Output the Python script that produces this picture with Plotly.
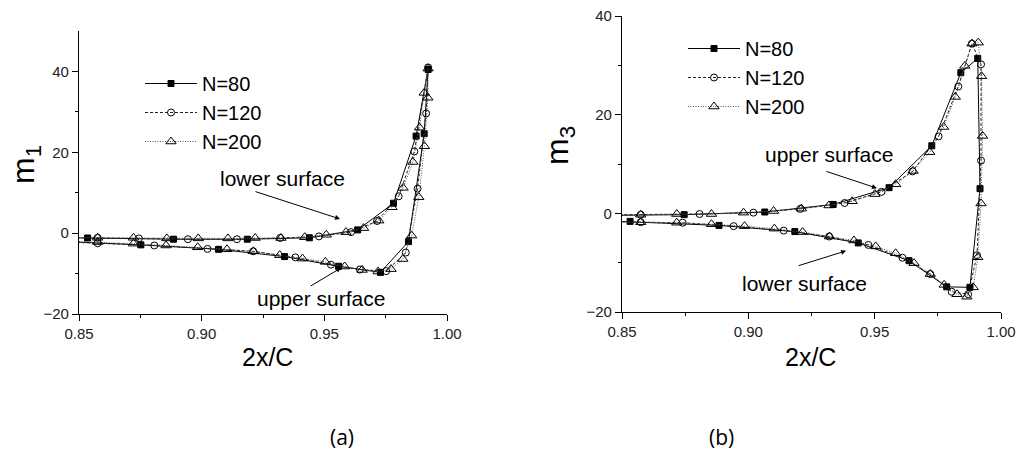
import plotly.graph_objects as go

W, H = 1021, 460

# ---------------- data: panel (a), m1 ----------------
a80_x = [0.840, 0.8535, 0.8885, 0.9186, 0.9439, 0.9636, 0.9782, 0.9874, 0.9923,
         0.9907, 0.9843, 0.9729, 0.9558, 0.9338, 0.9069, 0.8752, 0.845]
a80_y = [-1.1, -1.2, -1.5, -1.5, -1.15, 0.8, 7.4, 24.0, 40.5,
         24.6, -2.1, -9.7, -8.2, -5.8, -4.0, -2.9, -2.1]

a120_x = [0.845, 0.8576, 0.8744, 0.8944, 0.9144, 0.9320, 0.9478, 0.9609, 0.9715, 0.9803, 0.9867, 0.9923,
          0.9915, 0.9880, 0.9832, 0.9752, 0.9645, 0.9527, 0.9382, 0.9210, 0.9024, 0.8807, 0.8576, 0.845]
a120_y = [-1.1, -1.15, -1.3, -1.5, -1.5, -1.2, -0.8, 0.25, 3.0, 9.1, 20.2, 41.0,
          29.6, 11.0, -4.8, -9.4, -9.0, -7.8, -6.0, -4.5, -3.9, -3.05, -2.5, -2.2]

a200_x = [0.845, 0.8576, 0.8722, 0.8858, 0.8986, 0.9107, 0.9218, 0.9323, 0.9420, 0.9508, 0.9588, 0.9660,
          0.9722, 0.9776, 0.9821, 0.9861, 0.9888, 0.9907, 0.9923, 0.9922, 0.9908, 0.9885, 0.9856, 0.9820,
          0.9772, 0.9719, 0.9654, 0.9583, 0.9504, 0.9411, 0.9318, 0.9211, 0.9103, 0.8984, 0.8855, 0.8722,
          0.8576, 0.845]
a200_y = [-1.1, -1.15, -1.15, -1.3, -1.3, -1.3, -1.2, -1.2, -1.0, -0.4, 0.25, 1.25,
          3.1, 6.4, 11.2, 17.6, 26.1, 34.7, 40.7, 33.5, 21.5, 8.9, -0.6, -6.4,
          -8.9, -9.5, -9.1, -8.25, -7.1, -6.3, -5.45, -4.5, -4.0, -3.5, -3.05, -2.6,
          -2.2, -2.0]

# ---------------- data: panel (b), m3 ----------------
b80_x = [0.838, 0.8746, 0.9065, 0.9336, 0.9557, 0.9726, 0.9841, 0.9908, 0.9917,
         0.9877, 0.9785, 0.9636, 0.9435, 0.9184, 0.8884, 0.8532, 0.840]
b80_y = [-0.45, -0.27, 0.27, 1.8, 5.2, 13.7, 28.5, 31.4, 5.0,
         -15.0, -14.9, -9.6, -6.0, -3.7, -2.45, -1.63, -1.45]

b120_x = [0.845, 0.8574, 0.8807, 0.9020, 0.9205, 0.9381, 0.9527, 0.9650, 0.9753, 0.9831, 0.9885, 0.9921,
          0.9921, 0.9905, 0.9870, 0.9805, 0.9720, 0.9610, 0.9475, 0.9320, 0.9140, 0.8942, 0.8740, 0.8574,
          0.845]
b120_y = [-0.3, -0.27, -0.14, 0.14, 0.9, 2.1, 4.35, 8.5, 15.6, 25.7, 34.4, 30.2,
          10.7, -8.5, -16.4, -15.9, -12.3, -9.0, -6.4, -4.7, -3.5, -2.6, -1.9, -1.8,
          -1.7]

b200_x = [0.845, 0.8574, 0.8717, 0.8854, 0.8981, 0.9100, 0.9210, 0.9319, 0.9411, 0.9501, 0.9583, 0.9652,
          0.9718, 0.9773, 0.9819, 0.9857, 0.9885, 0.9910, 0.9923, 0.9927, 0.9921, 0.9908, 0.9890, 0.9865,
          0.9826, 0.9775, 0.9720, 0.9656, 0.9583, 0.9504, 0.9418, 0.9321, 0.9215, 0.9103, 0.8985, 0.8854,
          0.8717, 0.8574, 0.845]
b200_y = [-0.3, -0.27, -0.14, -0.14, 0.14, 0.47, 0.95, 1.6, 2.45, 3.9, 5.9, 8.6,
          12.4, 17.5, 23.6, 29.9, 34.4, 34.6, 27.8, 15.7, 2.0, -8.9, -15.0, -16.9,
          -16.4, -14.5, -12.3, -10.1, -8.1, -6.7, -5.5, -4.7, -3.8, -3.1, -2.6, -2.2,
          -1.9, -1.8, -1.7]

series_names = ["N=80", "N=120", "N=200"]
x_ticks = [0.85, 0.90, 0.95, 1.00]
x_ticklabels = ["0.85", "0.90", "0.95", "1.00"]

FONT = "Liberation Sans"

styles = [
    dict(line=dict(color="black", width=1, dash="solid"),
         marker=dict(symbol="square", size=6, color="black", line=dict(color="black", width=1))),
    dict(line=dict(color="#222", width=1, dash="3px,2px"),
         marker=dict(symbol="circle-open", size=7, color="black", line=dict(color="black", width=1))),
    dict(line=dict(color="#555", width=1, dash="1px,1.5px"),
         marker=dict(symbol="triangle-up-open", size=9, color="black", line=dict(color="black", width=1))),
]

fig = go.Figure()

panel_a = [(a80_x, a80_y), (a120_x, a120_y), (a200_x, a200_y)]
panel_b = [(b80_x, b80_y), (b120_x, b120_y), (b200_x, b200_y)]

for i, (xs, ys) in enumerate(panel_a):
    fig.add_trace(go.Scatter(x=xs, y=ys, mode="lines+markers", name=series_names[i],
                             xaxis="x", yaxis="y", legend="legend", cliponaxis=True, **styles[i]))
for i, (xs, ys) in enumerate(panel_b):
    fig.add_trace(go.Scatter(x=xs, y=ys, mode="lines+markers", name=series_names[i],
                             xaxis="x2", yaxis="y2", legend="legend2", cliponaxis=True, **styles[i]))


def px_x(p):
    return p / W


def px_y(p):
    return 1 - p / H


axis_common = dict(showline=True, linecolor="black", linewidth=1.2, ticks="outside",
                   ticklen=6, tickwidth=1, tickcolor="black", showgrid=False, zeroline=False,
                   automargin=False,
                   tickfont=dict(family=FONT, size=15, color="#222"))

minor_x = dict(ticks="outside", ticklen=3, tickcolor="black", tickvals=[0.875, 0.925, 0.975])
minor_y = dict(ticks="outside", ticklen=3, tickcolor="black", tickvals=[-10, 10, 30])

fig.update_layout(
    width=W, height=H,
    margin=dict(l=0, r=0, t=0, b=0, autoexpand=False),
    paper_bgcolor="white", plot_bgcolor="white",
    font=dict(family=FONT, color="black"),
    xaxis=dict(domain=[px_x(79), px_x(447)], range=[0.85, 1.00], anchor="y",
               tickvals=x_ticks, ticktext=x_ticklabels, minor=minor_x, **axis_common),
    yaxis=dict(domain=[px_y(314), px_y(31)], range=[-20, 50], anchor="x",
               tickvals=[-20, 0, 20, 40], minor=minor_y, **axis_common),
    xaxis2=dict(domain=[px_x(622), px_x(1001)], range=[0.85, 1.00], anchor="y2",
                tickvals=x_ticks, ticktext=x_ticklabels, minor=minor_x, **axis_common),
    yaxis2=dict(domain=[px_y(312), px_y(16)], range=[-20, 40], anchor="x2",
                tickvals=[-20, 0, 20, 40], minor=minor_y, **axis_common),
    legend=dict(x=px_x(140), y=px_y(64), xanchor="left", yanchor="top",
                bgcolor="rgba(0,0,0,0)", font=dict(family=FONT, size=20, color="black"),
                itemwidth=52, tracegroupgap=0),
    legend2=dict(x=px_x(683), y=px_y(29), xanchor="left", yanchor="top",
                 bgcolor="rgba(0,0,0,0)", font=dict(family=FONT, size=20, color="black"),
                 itemwidth=52, tracegroupgap=0),
    showlegend=True,
)

ann = []
txt_font = dict(family=FONT, size=21, color="black")


def label(text, xp, yp, font, angle=0):
    return dict(text=text, x=px_x(xp), y=px_y(yp), xref="paper", yref="paper",
                xanchor="center", yanchor="middle", showarrow=False, textangle=angle, font=font)


# axis titles
ann.append(label("m<sub>1</sub>", 25, 165, dict(family=FONT, size=32, color="black"), -90))
ann.append(label("m<sub>3</sub>", 560, 146, dict(family=FONT, size=32, color="black"), -90))
ann.append(label("2x/C", 267, 357, dict(family=FONT, size=25, color="black")))
ann.append(label("2x/C", 810, 357, dict(family=FONT, size=25, color="black")))
# panel captions
ann.append(label("(a)", 342, 437, dict(family="Open Sans, sans-serif", size=21, color="black")))
ann.append(label("(b)", 721, 437, dict(family="Open Sans, sans-serif", size=21, color="black")))
# surface labels
ann.append(label("lower surface", 282, 178, txt_font))
ann.append(label("upper surface", 321, 298, txt_font))
ann.append(label("upper surface", 829, 155, txt_font))
ann.append(label("lower surface", 804, 283, txt_font))
# arrows (data coordinates)
arrow_style = dict(showarrow=True, arrowhead=2, arrowsize=1, arrowwidth=1, arrowcolor="black", text="")
ann.append(dict(x=0.9564, y=3.5, ax=0.9213, ay=10.4, xref="x", yref="y", axref="x", ayref="y", **arrow_style))
ann.append(dict(x=0.9568, y=-8.6, ax=0.9438, ay=-13.3, xref="x", yref="y", axref="x", ayref="y", **arrow_style))
ann.append(dict(x=0.9509, y=5.1, ax=0.9303, ay=8.6, xref="x2", yref="y2", axref="x2", ayref="y2", **arrow_style))
ann.append(dict(x=0.9387, y=-7.6, ax=0.9193, ay=-10.7, xref="x2", yref="y2", axref="x2", ayref="y2", **arrow_style))

fig.update_layout(annotations=ann)

fig.write_html("out.html", config={"displayModeBar": False},
               post_script="document.body.style.margin='0px';")
